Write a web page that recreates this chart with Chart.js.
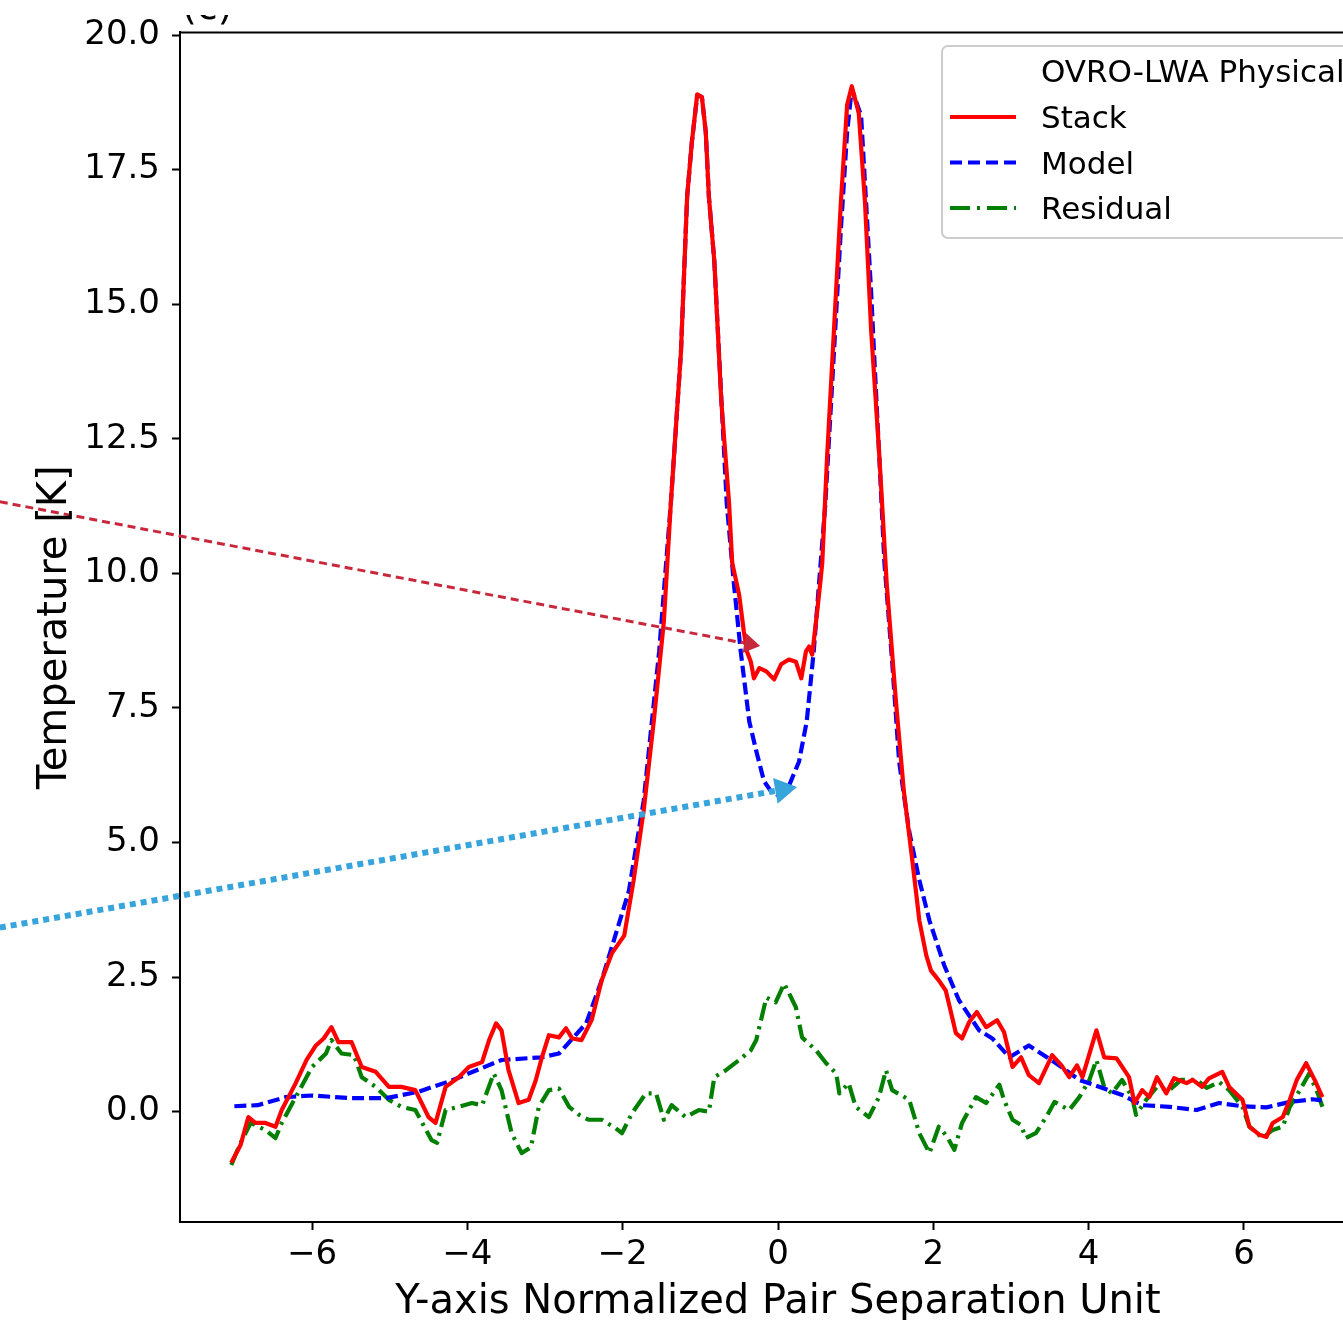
<!DOCTYPE html>
<html>
<head>
<meta charset="utf-8">
<script src="https://cdn.jsdelivr.net/npm/chart.js@4.4.0/dist/chart.umd.min.js"></script>
<style>
html, body { margin: 0; padding: 0; background: #fff; overflow: hidden; }
#wrap { width: 1343px; height: 1320px; overflow: hidden; position: relative; }
canvas { display: block; }
</style>
</head>
<body>
<div id="wrap"><canvas id="myChart" width="1400" height="1320"></canvas></div>
<script>
// Stack (measured profile)
const stackX = [-7.04,-6.92,-6.82,-6.73,-6.6,-6.47,-6.39,-6.21,-6.07,-5.95,-5.85,-5.75,-5.66,-5.49,-5.36,-5.18,-5.01,-4.85,-4.67,-4.5,-4.41,-4.28,-4.11,-3.98,-3.81,-3.72,-3.63,-3.56,-3.47,-3.34,-3.21,-3.12,-3.04,-2.95,-2.82,-2.73,-2.65,-2.53,-2.4,-2.27,-2.14,-1.98,-1.86,-1.73,-1.6,-1.47,-1.38,-1.25,-1.17,-1.11,-1.04,-0.98,-0.93,-0.89,-0.82,-0.73,-0.63,-0.59,-0.5,-0.44,-0.4,-0.35,-0.31,-0.24,-0.15,-0.05,0.04,0.14,0.23,0.3,0.36,0.4,0.44,0.5,0.55,0.57,0.63,0.72,0.81,0.89,0.95,1.04,1.12,1.2,1.3,1.4,1.52,1.62,1.73,1.82,1.91,1.97,2.07,2.16,2.23,2.29,2.37,2.46,2.56,2.68,2.82,2.91,3.02,3.13,3.23,3.36,3.53,3.65,3.75,3.85,3.92,4.1,4.2,4.36,4.52,4.59,4.69,4.78,4.88,5.0,5.1,5.26,5.34,5.46,5.55,5.72,5.81,5.98,6.07,6.2,6.29,6.37,6.5,6.59,6.68,6.8,6.91,7.01];
const stackY = [-0.95,-0.62,-0.1,-0.21,-0.21,-0.28,0.03,0.53,0.96,1.23,1.36,1.57,1.29,1.29,0.83,0.74,0.46,0.46,0.4,-0.1,-0.21,0.46,0.64,0.83,0.92,1.33,1.64,1.51,0.77,0.16,0.22,0.58,1.01,1.42,1.38,1.55,1.36,1.33,1.7,2.44,2.94,3.27,4.29,5.59,7.25,9.1,11.3,14.1,17.0,18.0,18.9,18.85,18.2,17.0,15.8,13.2,11.3,10.2,9.6,8.92,8.55,8.36,8.05,8.24,8.18,8.03,8.31,8.4,8.36,8.05,8.55,8.64,8.49,9.23,9.9,10.2,12.1,14.5,16.9,18.7,19.05,18.55,16.9,14.5,12.3,9.8,7.6,5.96,4.66,3.55,2.9,2.62,2.44,2.25,1.83,1.46,1.36,1.66,1.85,1.57,1.7,1.48,0.83,1.01,0.68,0.53,1.05,0.86,0.64,0.86,0.64,1.51,1.01,0.99,0.64,0.16,0.4,0.27,0.64,0.34,0.62,0.53,0.59,0.46,0.62,0.74,0.46,0.22,-0.28,-0.43,-0.47,-0.21,-0.1,0.22,0.59,0.9,0.59,0.27];

// Model (fit)
const modelX = [-7.0,-6.7,-6.34,-6.0,-5.49,-5.05,-4.63,-4.2,-3.56,-3.04,-2.82,-2.47,-2.27,-1.92,-1.73,-1.53,-1.38,-1.25,-1.17,-1.11,-1.04,-0.98,-0.93,-0.89,-0.82,-0.76,-0.66,-0.57,-0.48,-0.37,-0.28,-0.18,-0.09,0.0,0.14,0.27,0.37,0.46,0.53,0.61,0.72,0.81,0.89,0.95,1.07,1.13,1.2,1.24,1.31,1.37,1.47,1.56,1.69,1.82,1.95,2.14,2.33,2.59,2.76,2.98,3.23,3.58,3.88,4.18,4.43,4.69,5.04,5.39,5.68,5.98,6.29,6.59,6.88,7.0];
const modelY = [0.1,0.12,0.27,0.3,0.25,0.25,0.37,0.58,0.96,1.01,1.08,1.64,2.44,4.1,5.77,8.55,11.3,14.1,17.0,18.0,18.88,18.85,18.2,17.0,15.8,14.1,11.3,9.84,8.55,7.25,6.7,6.14,5.95,5.88,6.05,6.5,7.25,8.55,9.84,11.3,14.1,16.4,18.2,19.0,18.5,17.0,15.2,14.0,12.0,10.2,8.36,6.5,5.2,4.3,3.55,2.72,2.07,1.51,1.36,1.01,1.23,0.9,0.59,0.44,0.31,0.12,0.09,0.03,0.16,0.1,0.08,0.18,0.23,0.21];

// Residual (stack - model)
const residX = [-7.04,-6.92,-6.79,-6.6,-6.47,-6.39,-6.21,-6.0,-5.82,-5.75,-5.62,-5.46,-5.36,-5.18,-5.01,-4.85,-4.67,-4.46,-4.39,-4.28,-4.11,-3.94,-3.81,-3.66,-3.56,-3.43,-3.3,-3.18,-3.08,-2.95,-2.82,-2.69,-2.56,-2.44,-2.27,-2.09,-2.01,-1.88,-1.7,-1.57,-1.47,-1.37,-1.19,-1.02,-0.89,-0.82,-0.67,-0.5,-0.35,-0.28,-0.15,-0.03,0.08,0.23,0.31,0.49,0.62,0.75,0.79,0.91,1.0,1.17,1.3,1.39,1.47,1.69,1.82,1.95,2.07,2.18,2.27,2.37,2.55,2.68,2.85,2.91,3.02,3.13,3.19,3.32,3.47,3.56,3.75,3.88,4.01,4.1,4.2,4.3,4.43,4.56,4.61,4.74,4.88,5.04,5.19,5.39,5.52,5.68,5.81,5.98,6.07,6.24,6.37,6.5,6.59,6.72,6.84,6.95,7.01];
const residY = [-0.99,-0.58,-0.21,-0.34,-0.49,-0.21,0.27,0.83,1.08,1.33,1.08,1.05,0.64,0.46,0.22,0.09,0.03,-0.53,-0.58,0.03,0.09,0.16,0.12,0.71,0.4,-0.4,-0.77,-0.66,0.09,0.4,0.43,0.09,-0.06,-0.15,-0.15,-0.31,-0.4,-0.03,0.34,0.34,-0.15,0.12,-0.1,0.03,0.0,0.64,0.77,0.96,1.14,1.33,2.12,2.03,2.38,1.94,1.38,1.14,0.9,0.71,0.34,0.53,0.09,-0.1,0.27,0.77,0.4,0.22,-0.4,-0.77,-0.28,-0.47,-0.71,-0.21,0.27,0.16,0.5,0.22,-0.15,-0.25,-0.49,-0.4,-0.06,0.18,0.03,0.27,0.59,0.96,0.46,0.34,0.59,0.27,-0.06,0.22,0.46,0.4,0.59,0.59,0.44,0.55,0.4,0.09,-0.28,-0.49,-0.34,-0.28,0.09,0.4,0.71,0.34,0.09];

const xTicks = [-6, -4, -2, 0, 2, 4, 6];
const yTicks = [0, 2.5, 5, 7.5, 10, 12.5, 15, 17.5, 20];

const seriesNames = ['Stack', 'Model', 'Residual'];
const legendTitle = 'OVRO-LWA Physical';

// annotation arrows, in data units (start -> tip)
const arrows = [
    { from: [-10.02, 11.33], to: [-0.23, 8.65], color: '#c8283c', width: 3, dash: [8, 5], head: [16, 10] },
    { from: [-10.02, 3.42], to: [0.245, 6.03], color: '#37a5db', width: 6, dash: [6, 5], head: [22, 13] }
];

const toPoints = (xs, ys) => xs.map((x, i) => ({ x: x, y: ys[i] }));

const FONT = '"DejaVu Sans", "Liberation Sans", sans-serif';

const extras = {
    id: 'extras',
    afterDatasetsDraw(chart) {
        const ctx = chart.ctx;
        const xs = chart.scales.x, ys = chart.scales.y;
        ctx.save();
        arrows.forEach(a => {
            const x0 = xs.getPixelForValue(a.from[0]), y0 = ys.getPixelForValue(a.from[1]);
            const x1 = xs.getPixelForValue(a.to[0]), y1 = ys.getPixelForValue(a.to[1]);
            const ang = Math.atan2(y1 - y0, x1 - x0);
            const bx = x1 - a.head[0] * Math.cos(ang), by = y1 - a.head[0] * Math.sin(ang);
            ctx.strokeStyle = a.color;
            ctx.lineWidth = a.width;
            ctx.setLineDash(a.dash);
            ctx.lineCap = 'butt';
            ctx.beginPath();
            ctx.moveTo(x0, y0);
            ctx.lineTo(bx, by);
            ctx.stroke();
            ctx.setLineDash([]);
            ctx.fillStyle = a.color;
            ctx.beginPath();
            ctx.moveTo(x1, y1);
            ctx.lineTo(bx + a.head[1] * Math.sin(ang), by - a.head[1] * Math.cos(ang));
            ctx.lineTo(bx - a.head[1] * Math.sin(ang), by + a.head[1] * Math.cos(ang));
            ctx.closePath();
            ctx.fill();
        });
        ctx.restore();
    },
    afterDraw(chart) {
        const ctx = chart.ctx;
        const area = chart.chartArea;
        ctx.save();
        // top and right spines
        ctx.strokeStyle = '#000';
        ctx.lineWidth = 2;
        ctx.beginPath();
        ctx.moveTo(area.left, area.top);
        ctx.lineTo(area.right, area.top);
        ctx.lineTo(area.right, area.bottom);
        ctx.stroke();

        // axis titles
        ctx.fillStyle = '#000';
        ctx.font = '40px ' + FONT;
        ctx.textAlign = 'center';
        ctx.textBaseline = 'alphabetic';
        ctx.fillText('Y-axis Normalized Pair Separation Unit', (area.left + area.right) / 2, 1313);
        ctx.save();
        ctx.translate(66, (area.top + area.bottom) / 2);
        ctx.rotate(-Math.PI / 2);
        ctx.fillText('Temperature [K]', 0, 0);
        ctx.restore();

        // panel letter, only its lower edge shows in the crop
        ctx.save();
        ctx.beginPath();
        ctx.rect(170, 15, 100, 14);
        ctx.clip();
        ctx.textAlign = 'left';
        ctx.font = '38px ' + FONT;
        ctx.fillText('(c)', 182, 19);
        ctx.restore();

        // legend
        ctx.fillStyle = 'rgba(255,255,255,0.8)';
        ctx.strokeStyle = '#cccccc';
        ctx.lineWidth = 2;
        ctx.beginPath();
        ctx.roundRect(942, 46, 480, 192, 6);
        ctx.fill();
        ctx.stroke();
        ctx.fillStyle = '#000';
        ctx.textAlign = 'left';
        ctx.font = '31px ' + FONT;
        ctx.fillText(legendTitle, 1041, 82);
        chart.data.datasets.forEach((ds, i) => {
            const ly = 117 + i * 45.5;
            ctx.strokeStyle = ds.borderColor;
            ctx.lineWidth = ds.borderWidth;
            ctx.setLineDash(ds.legendDash || []);
            ctx.beginPath();
            ctx.moveTo(950, ly);
            ctx.lineTo(1016, ly);
            ctx.stroke();
            ctx.setLineDash([]);
            ctx.fillText(ds.label, 1041, ly + 11);
        });
        ctx.restore();
    }
};

const ctx = document.getElementById('myChart').getContext('2d');

const myChart = new Chart(ctx, {
    type: 'line',
    data: {
        datasets: [{
            label: seriesNames[0],
            data: toPoints(stackX, stackY),
            borderColor: '#ff0000',
            borderWidth: 4.2,
            legendDash: []
        }, {
            label: seriesNames[1],
            data: toPoints(modelX, modelY),
            borderColor: '#0000ff',
            borderWidth: 4.2,
            borderDash: [12, 5],
            legendDash: [12, 6]
        }, {
            label: seriesNames[2],
            data: toPoints(residX, residY),
            borderColor: '#007f00',
            borderWidth: 4.2,
            borderDash: [18, 6, 3, 6],
            legendDash: [20, 7, 3, 7]
        }]
    },
    options: {
        responsive: false,
        animation: false,
        events: [],
        layout: { padding: { top: 30, right: 24, left: 0, bottom: 0 } },
        elements: {
            point: { radius: 0 },
            line: { tension: 0, borderJoinStyle: 'round', borderCapStyle: 'butt' }
        },
        plugins: {
            legend: { display: false },
            tooltip: { enabled: false }
        },
        scales: {
            x: {
                type: 'linear',
                min: -7.7,
                max: 7.7,
                afterBuildTicks: s => { s.ticks = xTicks.map(v => ({ value: v })); },
                afterFit: s => { s.height = 98; },
                grid: { drawOnChartArea: false, tickLength: 8, color: '#000', tickWidth: 2 },
                border: { color: '#000', width: 2 },
                ticks: {
                    color: '#000',
                    font: { family: FONT, size: 34 },
                    padding: 5,
                    maxRotation: 0,
                    callback: v => v < 0 ? '\u2212' + Math.abs(v) : String(v)
                }
            },
            y: {
                min: -2.05,
                max: 20.05,
                afterBuildTicks: s => { s.ticks = yTicks.map(v => ({ value: v })); },
                afterFit: s => { s.width = 180; },
                grid: { drawOnChartArea: false, tickLength: 8, color: '#000', tickWidth: 2 },
                border: { color: '#000', width: 2 },
                ticks: {
                    color: '#000',
                    font: { family: FONT, size: 34 },
                    padding: 12,
                    callback: v => v.toFixed(1)
                }
            }
        }
    },
    plugins: [extras]
});
</script>
</body>
</html>
